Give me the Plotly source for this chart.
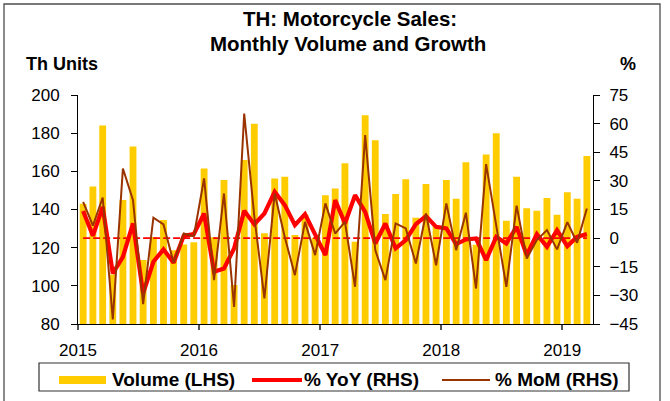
import pandas as pd
import plotly.graph_objects as go

# ---------------- data ----------------
months = pd.date_range("2015-01-01", periods=51, freq="MS")

volume = [
    143.0, 152.0, 184.0, 106.0, 145.0, 173.0, 113.5, 125.6, 134.5, 118.7, 121.7, 122.8,   # 2015
    161.5, 125.5, 155.4, 100.4, 166.0, 185.0, 127.5, 156.3, 157.1, 126.6, 137.2, 125.2,   # 2016
    147.5, 151.0, 164.3, 123.1, 189.4, 176.3, 137.6, 148.1, 155.8, 135.7, 153.3, 131.5,   # 2017
    155.4, 145.6, 164.8, 121.5, 168.8, 180.0, 134.1, 157.1, 140.7, 139.3, 146.0, 137.2,   # 2018
    149.1, 145.6, 168.0,                                                                  # 2019
]

yoy = [
    14.2, 1.2, 16.4, -18.5, -9.8, 7.7, -29.0, -12.4, -5.9, -12.9, 1.2, 2.1,
    12.9, -17.6, -15.9, -5.4, 14.3, 7.3, 12.9, 24.3, 17.3, 6.8, 12.6, 1.6,
    -8.9, 19.9, 7.7, 22.5, 13.8, -2.8, 7.7, -5.4, -1.0, 7.3, 11.5, 5.9,
    5.1, -3.1, -0.7, -0.2, -11.5, 0.7, -2.8, 5.9, -8.9, 2.1, -4.6, 4.2,
    -4.2, 0.7, 2.1,
]

mom = [
    19.0, 6.5, 21.3, -42.6, 36.5, 19.9, -34.6, 10.7, 7.2, -12.9, 2.4, 1.0,
    31.3, -22.0, 23.4, -36.0, 65.3, 11.4, -31.6, 23.4, 0.5, -19.4, 8.5, -8.9,
    18.2, 2.4, 8.5, -25.5, 54.0, -6.3, -22.0, 7.7, 5.1, -13.3, 12.9, -14.2,
    18.2, -6.3, 13.3, -26.4, 38.8, 6.6, -25.5, 17.0, -10.7, -1.0, 4.2, -5.9,
    8.4, -2.4, 15.5,
]

year_ticks = ["2015-01-01", "2016-01-01", "2017-01-01", "2018-01-01", "2019-01-01"]
year_labels = ["2015", "2016", "2017", "2018", "2019"]

title_lines = ["TH: Motorcycle Sales:", "Monthly Volume and Growth"]
legend_labels = ["Volume (LHS)", "% YoY (RHS)", "% MoM (RHS)"]

# ---------------- styling ----------------
FONT = "Liberation Sans, Arial, sans-serif"
GOLD = "#FFCC00"
RED = "#FF0000"
BROWN = "#993300"

W, H = 670, 401
L, R, T, B = 78, 77, 95, 77
PW, PH = W - L - R, H - T - B


def px_x(p):
    return (p - L) / PW


def px_y(p):
    return (H - B - p) / PH


fig = go.Figure()

fig.add_trace(go.Bar(
    x=months, y=volume, xperiod="M1", xperiodalignment="middle",
    marker=dict(color=GOLD, line=dict(width=0)), name=legend_labels[0],
    yaxis="y",
))

fig.add_trace(go.Scatter(
    x=[months[0], months[-1]], y=[0, 0], xperiod="M1", xperiodalignment="middle",
    mode="lines", line=dict(color=RED, width=1.6, dash="7px,3px"),
    yaxis="y2", showlegend=False,
))

fig.add_trace(go.Scatter(
    x=months, y=yoy, xperiod="M1", xperiodalignment="middle",
    mode="lines", line=dict(color=RED, width=4.2), name=legend_labels[1],
    yaxis="y2",
))

fig.add_trace(go.Scatter(
    x=months, y=mom, xperiod="M1", xperiodalignment="middle",
    mode="lines", line=dict(color=BROWN, width=2), name=legend_labels[2],
    yaxis="y2",
))

tickfont = dict(family=FONT, size=17, color="#000")

fig.update_layout(
    width=W, height=H,
    margin=dict(l=L, r=R, t=T, b=B, pad=0),
    paper_bgcolor="white", plot_bgcolor="white",
    showlegend=False,
    hovermode=False,
    bargap=0.3,
    xaxis=dict(
        type="date",
        range=["2015-01-01", "2019-04-04"],
        tickvals=year_ticks, ticktext=year_labels,
        showgrid=False, zeroline=False,
        showline=True, linecolor="#000", linewidth=1,
        ticks="outside", ticklen=5, tickcolor="#555", tickwidth=1.5,
        tickfont=tickfont, ticklabelstandoff=6,
    ),
    yaxis=dict(
        range=[80, 200], dtick=20, tick0=80,
        showgrid=False, zeroline=False,
        showline=True, linecolor="#000", linewidth=1,
        ticks="outside", ticklen=6, tickcolor="#000", tickwidth=1,
        tickfont=tickfont, ticklabelstandoff=8,
    ),
    yaxis2=dict(
        range=[-45, 75], dtick=15, tick0=-45,
        overlaying="y", side="right",
        showgrid=False, zeroline=False,
        showline=True, linecolor="#000", linewidth=1,
        ticks="outside", ticklen=6, tickcolor="#000", tickwidth=1,
        tickfont=tickfont, ticklabelstandoff=6,
    ),
)

annotations = []
# title (two separate lines for tighter spacing)
annotations.append(dict(text="<b>%s</b>" % title_lines[0], x=px_x(350), y=px_y(19),
                        xref="paper", yref="paper", xanchor="center", yanchor="middle",
                        showarrow=False, font=dict(family=FONT, size=20.5, color="#000")))
annotations.append(dict(text="<b>%s</b>" % title_lines[1], x=px_x(348), y=px_y(43.5),
                        xref="paper", yref="paper", xanchor="center", yanchor="middle",
                        showarrow=False, font=dict(family=FONT, size=20.5, color="#000")))
# axis unit labels
annotations.append(dict(text="<b>Th Units</b>", x=px_x(24), y=px_y(64),
                        xref="paper", yref="paper", xanchor="left", yanchor="middle",
                        showarrow=False, font=dict(family=FONT, size=18, color="#000")))
annotations.append(dict(text="<b>%</b>", x=px_x(628), y=px_y(64),
                        xref="paper", yref="paper", xanchor="center", yanchor="middle",
                        showarrow=False, font=dict(family=FONT, size=18, color="#000")))
# legend texts
leg_text_x = [110, 302, 493]
for lx, lab in zip(leg_text_x, legend_labels):
    annotations.append(dict(text="<b>%s</b>" % lab, x=px_x(lx), y=px_y(379),
                            xref="paper", yref="paper", xanchor="left", yanchor="middle",
                            showarrow=False, font=dict(family=FONT, size=19, color="#000")))

shapes = [
    # outer chart frame
    dict(type="rect", xref="paper", yref="paper",
         x0=px_x(4), x1=px_x(660), y0=px_y(412), y1=px_y(4),
         line=dict(color="#4d4d4d", width=1.3), fillcolor="rgba(0,0,0,0)", layer="below"),
    # legend box
    dict(type="rect", xref="paper", yref="paper",
         x0=px_x(39), x1=px_x(629), y0=px_y(391), y1=px_y(363),
         line=dict(color="#333", width=1.2), fillcolor="white"),
    # legend swatches
    dict(type="rect", xref="paper", yref="paper",
         x0=px_x(59), x1=px_x(106), y0=px_y(384), y1=px_y(376),
         line=dict(width=0), fillcolor=GOLD),
    dict(type="line", xref="paper", yref="paper",
         x0=px_x(252), x1=px_x(302), y0=px_y(380), y1=px_y(380),
         line=dict(color=RED, width=4)),
    dict(type="line", xref="paper", yref="paper",
         x0=px_x(442), x1=px_x(490), y0=px_y(380), y1=px_y(380),
         line=dict(color=BROWN, width=2)),
]

fig.update_layout(annotations=annotations, shapes=shapes)

fig.write_html(
    "out.html",
    config={"displayModeBar": False},
    post_script="document.body.style.margin='0';document.body.style.overflow='hidden';",
)
